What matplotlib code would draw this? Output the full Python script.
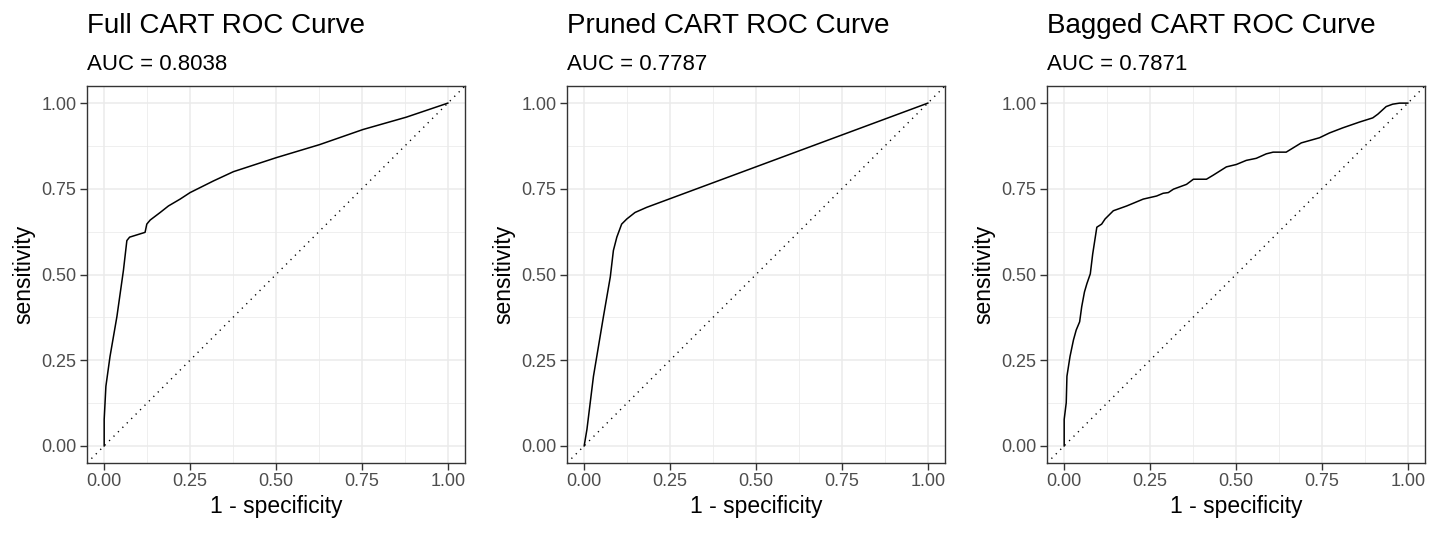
import numpy as np
import matplotlib
matplotlib.use("Agg")
import matplotlib.pyplot as plt

plt.rcParams['font.family'] = ['Liberation Sans', 'DejaVu Sans']

# ROC curves (x = 1 - specificity, y = sensitivity)
titulos = ["Full CART ROC Curve", "Pruned CART ROC Curve", "Bagged CART ROC Curve"]
auc = ["0.8038", "0.7787", "0.7871"]

full_fpr = [0, 0, 0.005, 0.017, 0.037, 0.056, 0.066, 0.074, 0.119, 0.124, 0.134, 0.163,
            0.187, 0.221, 0.250, 0.318, 0.376, 0.434, 0.501, 0.627, 0.753, 0.879, 1.0]
full_tpr = [0, 0.077, 0.174, 0.261, 0.377, 0.512, 0.599, 0.609, 0.623, 0.647, 0.659, 0.681,
            0.700, 0.720, 0.739, 0.773, 0.800, 0.819, 0.841, 0.879, 0.923, 0.959, 1.0]

pruned_fpr = [0, 0.008, 0.027, 0.056, 0.076, 0.085, 0.095, 0.109, 0.124, 0.148, 0.182, 1.0]
pruned_tpr = [0, 0.048, 0.203, 0.377, 0.493, 0.570, 0.609, 0.647, 0.662, 0.681, 0.696, 1.0]

bagged_fpr = [0, 0, 0.006, 0.008, 0.017, 0.027, 0.035, 0.045, 0.051, 0.059, 0.066, 0.076,
              0.083, 0.095, 0.109, 0.119, 0.143, 0.182, 0.230, 0.269, 0.288, 0.303, 0.318,
              0.356, 0.376, 0.414, 0.434, 0.472, 0.501, 0.530, 0.559, 0.588, 0.608, 0.646,
              0.690, 0.743, 0.772, 0.811, 0.860, 0.898, 0.913, 0.937, 0.956, 0.976, 1.0]
bagged_tpr = [0, 0.077, 0.126, 0.203, 0.261, 0.309, 0.338, 0.362, 0.406, 0.449, 0.473, 0.502,
              0.560, 0.638, 0.647, 0.662, 0.686, 0.700, 0.720, 0.729, 0.737, 0.739, 0.749,
              0.763, 0.778, 0.778, 0.790, 0.814, 0.821, 0.833, 0.839, 0.852, 0.857, 0.857,
              0.884, 0.899, 0.913, 0.928, 0.945, 0.957, 0.968, 0.990, 0.997, 1.0, 1.0]

curvas = [(full_fpr, full_tpr), (pruned_fpr, pruned_tpr), (bagged_fpr, bagged_tpr)]
ticks = [0, 0.25, 0.5, 0.75, 1.0]
tick_labels = ["0.00", "0.25", "0.50", "0.75", "1.00"]

W, H = 1446, 533
fig = plt.figure(figsize=(W / 100, H / 100), dpi=100)

lefts = [87, 567, 1047]
for k in range(3):
    ax = fig.add_axes([lefts[k] / W, (H - 463) / H, 378 / W, 377 / H])
    ax.set_xlim(-0.05, 1.05)
    ax.set_ylim(-0.05, 1.05)

    # grid estilo ggplot theme_bw
    for v in np.arange(0.125, 1.0, 0.25):
        ax.axvline(v, color="#EBEBEB", lw=0.55, zorder=0)
        ax.axhline(v, color="#EBEBEB", lw=0.55, zorder=0)
    for v in ticks:
        ax.axvline(v, color="#EBEBEB", lw=1.1, zorder=0)
        ax.axhline(v, color="#EBEBEB", lw=1.1, zorder=0)

    ax.plot([-0.05, 1.05], [-0.05, 1.05], color="black", lw=1.0,
            linestyle=(0, (0.9, 3.6)), zorder=2)
    x, y = curvas[k]
    ax.plot(x, y, color="black", lw=1.1, zorder=3)

    ax.set_xticks(ticks)
    ax.set_xticklabels(tick_labels)
    ax.set_yticks(ticks)
    ax.set_yticklabels(tick_labels)
    ax.tick_params(length=5, width=1.0, color="#333333", pad=2.5,
                   labelsize=13, labelcolor="#4D4D4D")
    for s in ax.spines.values():
        s.set_color("#333333")
        s.set_linewidth(1.0)

    ax.set_xlabel("1 - specificity", fontsize=16.5, labelpad=3)
    ax.set_ylabel("sensitivity", fontsize=16.5, labelpad=4)

    fig.text(lefts[k] / W, 1 - 33 / H, titulos[k], fontsize=20, va="baseline", ha="left")
    fig.text(lefts[k] / W, 1 - 70 / H, "AUC = " + auc[k], fontsize=16, va="baseline", ha="left")

fig.savefig("out.png", dpi=100, facecolor="white")
